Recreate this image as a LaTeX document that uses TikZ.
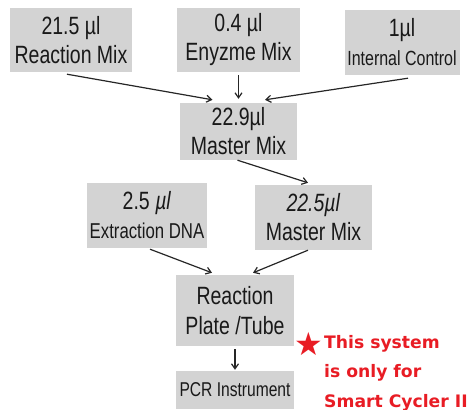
\documentclass[tikz,border=0pt]{standalone}
\usepackage{fontspec}
\setmainfont[FakeStretch=0.78]{Liberation Sans}
\newfontfamily\notefont{DejaVu Sans}
\usetikzlibrary{arrows.meta}
\definecolor{boxgray}{RGB}{211,211,211}
\definecolor{notered}{RGB}{232,28,36}

\begin{document}
\begin{tikzpicture}[x=1pt,y=-1pt,
    box/.style={fill=boxgray, align=center, inner sep=0pt, text=black!90,
        font=\fontsize{25}{29}\selectfont},
    link/.style={-{Straight Barb[length=5pt,width=7pt]}, line width=1.2pt, black!85},
    note/.style={text=notered, align=left, inner sep=0pt,
        font=\notefont\bfseries\fontsize{17.2}{29.5}\selectfont}]

    \useasboundingbox (0,0) rectangle (469,410);

    % Input boxes
    \node[box, minimum width=122pt, minimum height=64pt] (rmix) at (71,40) {21.5 µl\\Reaction Mix};
    \node[box, minimum width=123pt, minimum height=64pt] (emix) at (238.5,40) {0.4 µl\\Enyzme Mix};
    \node[box, minimum width=115pt, minimum height=65pt] (ictrl) at (402,42)
        {1µl\\{\fontsize{20.5}{29}\selectfont Internal Control}};

    % Master mix
    \node[box, minimum width=117pt, minimum height=57pt] (mmix1) at (238.5,131.5) {22.9µl\\Master Mix};

    % Second row
    \node[box, minimum width=120pt, minimum height=65pt] (edna) at (147,215.5)
        {2.5 \textit{µl}\\{\fontsize{21.5}{29}\selectfont Extraction DNA}};
    \node[box, minimum width=117pt, minimum height=65pt] (mmix2) at (313.5,217.5) {\textit{22.5µl}\\Master Mix};

    % Plate and instrument
    \node[box, minimum width=118pt, minimum height=71pt, font=\fontsize{25}{30}\selectfont] (rtube) at (235,310.5)
        {Reaction\\Plate /Tube};
    \node[box, minimum width=118pt, minimum height=38pt, font=\fontsize{20}{24}\selectfont] (pcr) at (235,390)
        {PCR Instrument};

    % Arrows
    \draw[link] ([xshift=-4pt,yshift=-2pt]rmix.south) -- ([xshift=-26pt,yshift=3pt]mmix1.north);
    \draw[link] ([yshift=-3pt]emix.south) -- ([yshift=4pt]mmix1.north);
    \draw[link] ([xshift=6pt,yshift=-3.5pt]ictrl.south) -- ([xshift=26.5pt,yshift=3pt]mmix1.north);
    \draw[link] ([xshift=-1pt]mmix1.south) -- ([xshift=-5.5pt,yshift=2pt]mmix2.north);
    \draw[link] ([xshift=3pt,yshift=-1pt]edna.south) -- ([xshift=-23pt,yshift=2pt]rtube.north);
    \draw[link] ([xshift=-5.5pt]mmix2.south) -- ([xshift=18pt,yshift=2pt]rtube.north);
    \draw[link] ([yshift=-3pt]rtube.south) -- ([yshift=1pt]pcr.north);

    % Note
    \node[note, anchor=north west] (note) at (324,335) {This system\\is only for\\Smart Cycler II};
    \node[text=notered, inner sep=0pt, anchor=east, font=\notefont\fontsize{32}{32}\selectfont] (star)
        at ([xshift=-1pt,yshift=-8.5pt]note.north west) {★};
\end{tikzpicture}
\end{document}
